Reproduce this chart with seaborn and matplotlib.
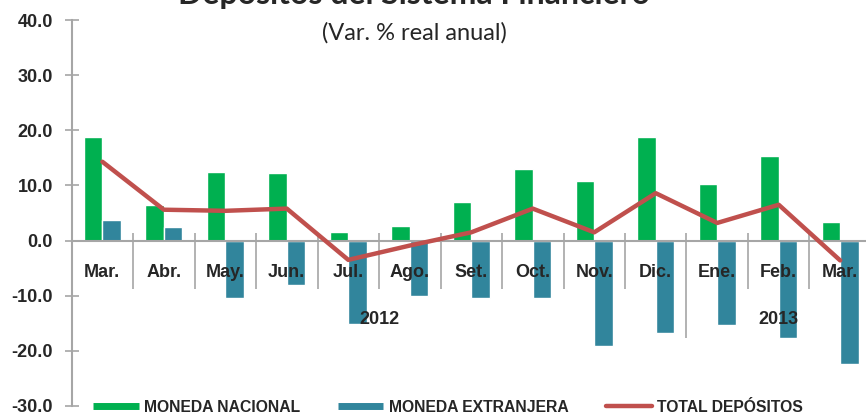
import numpy as np
import pandas as pd
import matplotlib
matplotlib.use("Agg")
import matplotlib.pyplot as plt
from matplotlib.lines import Line2D
import seaborn as sns

# data
meses = ["Mar.", "Abr.", "May.", "Jun.", "Jul.", "Ago.", "Set.", "Oct.", "Nov.", "Dic.", "Ene.", "Feb.", "Mar."]
anios = ["2012"] * 10 + ["2013"] * 3
moneda_nacional = [18.7, 6.5, 12.5, 12.2, 1.5, 2.7, 7.0, 13.0, 10.8, 18.7, 10.2, 15.3, 3.3]
moneda_extranjera = [3.7, 2.5, -10.5, -8.0, -15.1, -10.1, -10.5, -10.5, -19.2, -16.7, -15.3, -17.6, -22.4]
total_depositos = [14.3, 5.6, 5.4, 5.8, -3.5, -0.9, 1.5, 5.8, 1.5, 8.6, 3.2, 6.5, -3.6]

verde = "#00B050"
azul = "#31859C"
rojo = "#C0504D"
gris = "#A6A6A6"

sns.set_theme(style="white")
plt.rcParams["font.family"] = ["Liberation Sans", "DejaVu Sans"]

claves = [f"{m}{a}" for m, a in zip(meses, anios)]
df = pd.DataFrame({
    "clave": claves * 2,
    "valor": moneda_nacional + moneda_extranjera,
    "serie": ["MONEDA NACIONAL"] * len(claves) + ["MONEDA EXTRANJERA"] * len(claves),
})
df_total = pd.DataFrame({"pos": np.arange(len(claves)), "total": total_depositos})

fig = plt.figure(figsize=(8.66, 4.15), dpi=100)
ax = fig.add_axes([0.0827, 0.0217, 0.923, 0.930])

sns.barplot(data=df, x="clave", y="valor", hue="serie", hue_order=["MONEDA NACIONAL", "MONEDA EXTRANJERA"],
            palette=[verde, azul], width=0.6, errorbar=None, legend=False, ax=ax, saturation=1)
sns.lineplot(data=df_total, x="pos", y="total", color=rojo, linewidth=3.2, ax=ax, zorder=4)

ax.set_xlim(-0.5, len(claves) - 0.5)
ax.set_ylim(-30, 40)
ax.set_yticks(np.arange(-30, 41, 10))
ax.set_yticklabels([f"{v:.1f}" for v in np.arange(-30, 41, 10)], fontweight="bold", fontsize=13)
ax.set_xlabel("")
ax.set_ylabel("")
ax.set_axisbelow(False)

for s in ["top", "right"]:
    ax.spines[s].set_visible(False)
ax.spines["left"].set_color(gris)
ax.spines["left"].set_linewidth(1.5)
ax.spines["bottom"].set_position(("data", 0))
ax.spines["bottom"].set_color(gris)
ax.spines["bottom"].set_linewidth(1.5)

ax.tick_params(axis="y", direction="inout", length=10, width=1.2, color=gris, pad=8.5, left=True)
ax.set_xticks(range(len(meses)))
ax.set_xticklabels([])
ax.tick_params(axis="x", length=0)

# month labels, drawn inside the plot just under the zero line
for i, m in enumerate(meses):
    ax.text(i, -5.8, m, ha="center", va="center", fontsize=13, fontweight="bold", zorder=5)

# category separators
n = len(claves)
for i in range(n - 1):
    fin = -17.6 if anios[i] != anios[i + 1] else -8.7
    ax.vlines(i + 0.5, fin, 1.3, color=gris, linewidth=1.2, zorder=3)

# year labels
for anio in ["2012", "2013"]:
    idx = [i for i, a in enumerate(anios) if a == anio]
    ax.text(np.mean(idx), -14.4, anio, ha="center", va="center", fontsize=13, fontweight="bold", zorder=5)

fig.text(414 / 866, 1 - 4 / 415, "Depósitos del Sistema Financiero", ha="center", va="baseline",
         fontsize=23, fontweight="bold", family=["Lato", "DejaVu Sans"])
fig.text(414 / 866, 1 - 33 / 415, "(Var. % real anual)", ha="center", va="center",
         fontsize=17, family=["Lato", "DejaVu Sans"])

handles = [
    Line2D([], [], color=verde, linewidth=5, solid_capstyle="butt"),
    Line2D([], [], color=azul, linewidth=5, solid_capstyle="butt"),
    Line2D([], [], color=rojo, linewidth=3.2, solid_capstyle="round"),
]
etiquetas = ["MONEDA NACIONAL", "MONEDA EXTRANJERA", "TOTAL DEPÓSITOS"]
leg = fig.legend(handles, etiquetas, loc="center left", bbox_to_anchor=(93 / 866, 1 - 407 / 415), ncol=3,
                 frameon=False, handlelength=2.9, handletextpad=0.35, columnspacing=2.4,
                 borderpad=0, borderaxespad=0, prop={"weight": "bold", "size": 11.3})

fig.savefig("out.png", dpi=100)
